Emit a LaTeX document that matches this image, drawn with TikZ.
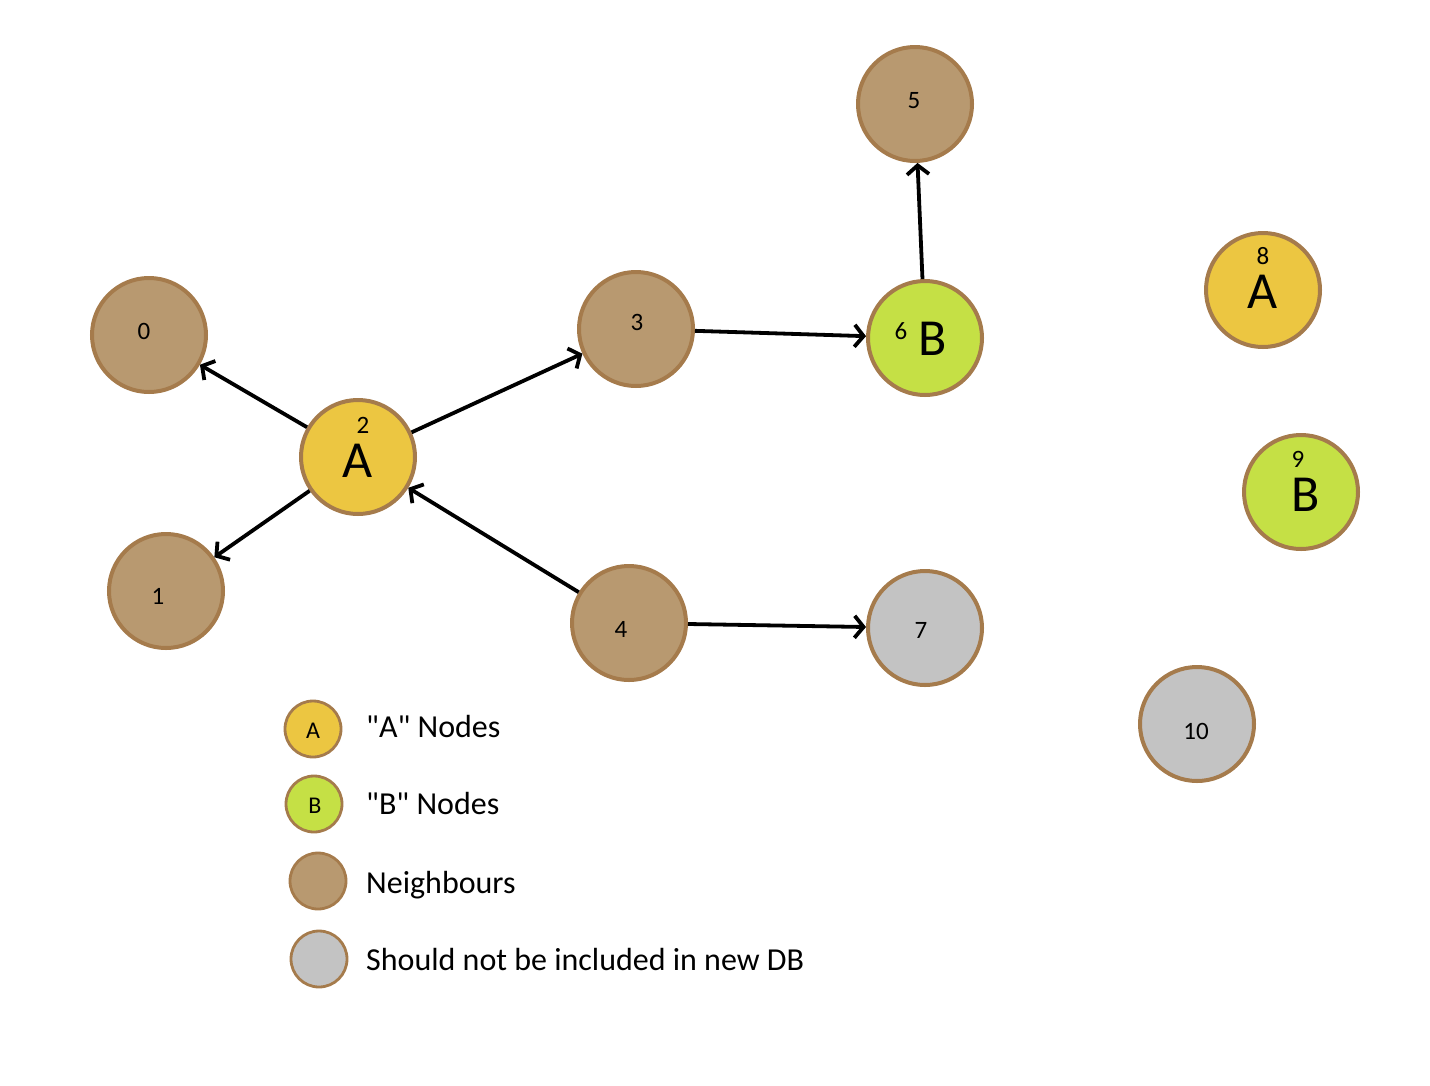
\documentclass[tikz,border=0pt]{standalone}
\usepackage{fontspec}
\setmainfont{Carlito}[Ligatures=TeXOff]
\usetikzlibrary{arrows.meta}
\definecolor{ayel}{RGB}{236,198,65}
\definecolor{bgrn}{RGB}{197,224,69}
\definecolor{nbr}{RGB}{184,153,112}
\definecolor{gry}{RGB}{195,195,195}
\definecolor{rim}{RGB}{165,123,76}
\newcommand{\numfnt}{\fontsize{25}{25}\selectfont}
% #1 letter, #2 number, #3 twice the x offset, #4 raise
\newcommand{\lettnum}[4]{\setbox0=\hbox{#1}\rlap{\makebox[\wd0][c]{\hspace*{#3}\raisebox{#4}[0pt][0pt]{\numfnt #2}}}\box0}
\begin{document}
\begin{tikzpicture}[x=1pt,y=-1pt,
 gnode/.style={circle, draw=rim, line width=4pt, minimum size=114pt, inner sep=0pt},
 lnode/.style={circle, draw=rim, line width=2.8pt, minimum size=56pt, inner sep=0pt},
 num/.style={font=\numfnt, inner sep=0pt},
 big/.style={font=\fontsize{52}{52}\selectfont, inner sep=0pt},
 lsmall/.style={font=\fontsize{24}{24}\selectfont, inner sep=0pt},
 leg/.style={font=\fontsize{32}{32}\selectfont, anchor=base west, inner sep=0pt},
 edge/.style={line width=3.8pt, -{Straight Barb[length=9pt,width=22pt]}}]
\useasboundingbox[fill=white] (0,0) rectangle (1430,1085);
% graph nodes
\node[gnode, fill=nbr] (n0) at (149,335) {};
\node[gnode, fill=nbr] (n1) at (166,591) {};
\node[gnode, fill=ayel] (n2) at (358,457) {};
\node[gnode, fill=nbr] (n3) at (636,329) {};
\node[gnode, fill=nbr] (n4) at (629,623) {};
\node[gnode, fill=nbr] (n5) at (915,104) {};
\node[gnode, fill=bgrn] (n6) at (925,338) {};
\node[gnode, fill=gry] (n7) at (925,628) {};
\node[gnode, fill=ayel] (n8) at (1263,290) {};
\node[gnode, fill=bgrn] (n9) at (1301,492) {};
\node[gnode, fill=gry] (n10) at (1197,724) {};
% labels
\node[num] (t0) at (144,331) {0};
\node[num] (t1) at (158,596) {1};
\node[big] (a2) at (358,460.5) {\lettnum{A}{2}{10pt}{44pt}};
\node[num] (t3) at (637,322) {3};
\node[num] (t4) at (621,629) {4};
\node[num] (t5) at (914,101) {5};
\node[num] (t6) at (901,331) {6};
\node[big] (b6) at (933,339) {B};
\node[num] (t7) at (921,630) {7};
\node[big] (a8) at (1263,292) {\lettnum{A}{8}{0pt}{44pt}};
\node[big] (b9) at (1306,495) {\lettnum{B}{9}{-16pt}{44pt}};
\node[num] (t10) at (1196,731) {10};
% edges
\draw[edge] (n2) -- (n0);
\draw[edge] (n2) -- (n1);
\draw[edge] (n2) -- (n3);
\draw[edge] (n4) -- (n2);
\draw[edge] (n3) -- (n6);
\draw[edge] (n6) -- (n5);
\draw[edge] (n4) -- (n7);
% legend
\node[lnode, fill=ayel] (la) at (313,729) {};
\node[lsmall] (las) at (313,731) {A};
\node[lnode, fill=bgrn] (lb) at (314,804) {};
\node[lsmall] (lbs) at (315,806) {B};
\node[lnode, fill=nbr] (ln) at (318,881) {};
\node[lnode, fill=gry] (lg) at (319,959) {};
\node[leg] (ta) at (366,737) {"A" Nodes};
\node[leg] (tb) at (366,814) {"B" Nodes};
\node[leg] (tn) at (366,893) {Neighbours};
\node[leg] (tg) at (366,970) {Should not be included in new DB};
\end{tikzpicture}
\end{document}
